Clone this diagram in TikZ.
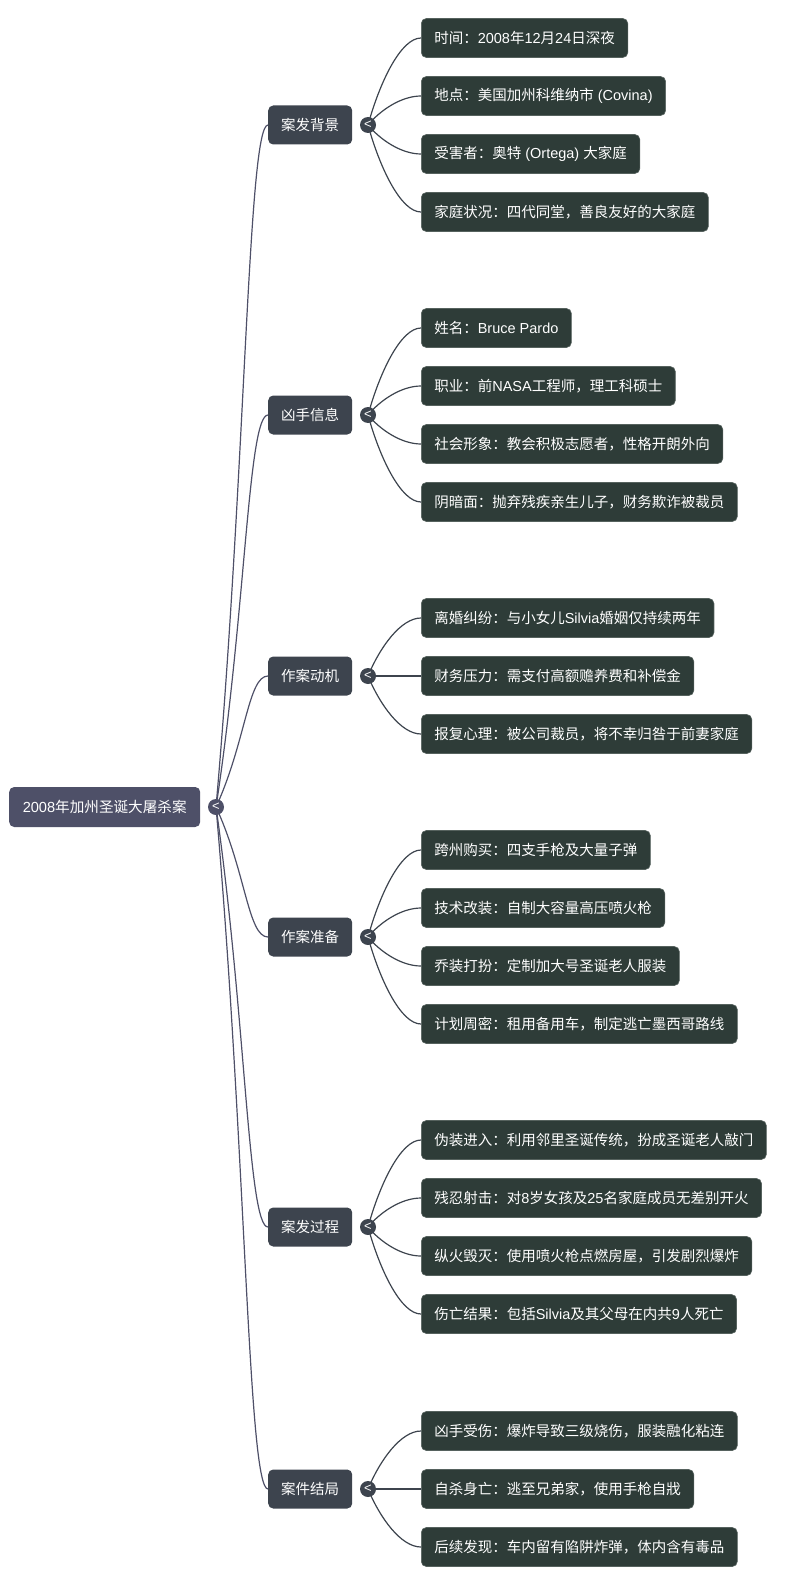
\documentclass[tikz,border=0pt]{standalone}
\usepackage{fontspec}
\setmainfont{Liberation Sans}
\newfontfamily\latf{Liberation Sans}
\newfontfamily\cjkf{Noto Sans CJK SC}
\usetikzlibrary{calc}

% CJK characters get the CJK font, the rest stays Latin
\XeTeXinterchartokenstate=1
\newXeTeXintercharclass\cjkcls
\newcount\cjkn
\cjkn="3000
\loop\XeTeXcharclass\cjkn=\cjkcls \ifnum\cjkn<"9FFF \advance\cjkn by 1 \repeat
\cjkn="FF00
\loop\XeTeXcharclass\cjkn=\cjkcls \ifnum\cjkn<"FFEF \advance\cjkn by 1 \repeat
\XeTeXinterchartoks 0 \cjkcls={\cjkf}
\XeTeXinterchartoks 4095 \cjkcls={\cjkf}
\XeTeXinterchartoks \cjkcls 0={\latf}
\XeTeXinterchartoks \cjkcls 4095={\latf}

\definecolor{rootc}{HTML}{4E5068}
\definecolor{mainc}{HTML}{3D444E}
\definecolor{subc}{HTML}{2E3C38}
\definecolor{subedge}{HTML}{56625E}

\tikzset{
  root/.style={fill=rootc, text=white, rounded corners=5pt, anchor=west,
    minimum height=40pt, minimum width=191pt, inner xsep=0pt,
    font=\latf\fontsize{14.6}{18}\selectfont},
  topic/.style={fill=mainc, text=white, rounded corners=5pt, anchor=west,
    minimum height=39pt, inner xsep=13pt, font=\latf\fontsize{14.5}{17}\selectfont},
  leaf/.style={topic, fill=subc, draw=subedge, line width=0.6pt},
  fold/.style={circle, fill=#1, text=white, minimum size=16pt, inner sep=0pt,
    font=\latf\fontsize{13}{13}\selectfont},
  branch/.style={to path={.. controls ($(\tikztostart)!0.5!(\tikztostart|-\tikztotarget)+(#1,0)$)
    and ($(\tikztotarget)+(-20,0)$) .. (\tikztotarget)}},
}

\begin{document}
\begin{tikzpicture}[x=1pt,y=-1pt]
\useasboundingbox (0,0) rectangle (800,1586);

\node[root] (r) at (9,807) {2008年加州圣诞大屠杀案};
\coordinate (rf) at (216,807);

\foreach \n/\y/\t in {t1/125/案发背景, t2/415/凶手信息, t3/676/作案动机,
    t4/937/作案准备, t5/1227/案发过程, t6/1489/案件结局} {
  \node[topic] (\n) at (268,\y) {\t};
  \coordinate (\n f) at (368,\y);
  \path[draw=rootc, line width=1.2pt] (rf) edge[branch=30] (\n.west);
}

\foreach \p/\n/\y/\t in {
    t1/a1/38/{时间：2008年12月24日深夜},
    t1/a2/96/{地点：美国加州科维纳市 (Covina)},
    t1/a3/154/{受害者：奥特 (Ortega) 大家庭},
    t1/a4/212/{家庭状况：四代同堂，善良友好的大家庭},
    t2/b1/328/{姓名：Bruce Pardo},
    t2/b2/386/{职业：前NASA工程师，理工科硕士},
    t2/b3/444/{社会形象：教会积极志愿者，性格开朗外向},
    t2/b4/502/{阴暗面：抛弃残疾亲生儿子，财务欺诈被裁员},
    t3/c1/618/{离婚纠纷：与小女儿Silvia婚姻仅持续两年},
    t3/c2/676/{财务压力：需支付高额赡养费和补偿金},
    t3/c3/734/{报复心理：被公司裁员，将不幸归咎于前妻家庭},
    t4/d1/850/{跨州购买：四支手枪及大量子弹},
    t4/d2/908/{技术改装：自制大容量高压喷火枪},
    t4/d3/966/{乔装打扮：定制加大号圣诞老人服装},
    t4/d4/1024/{计划周密：租用备用车，制定逃亡墨西哥路线},
    t5/e1/1140/{伪装进入：利用邻里圣诞传统，扮成圣诞老人敲门},
    t5/e2/1198/{残忍射击：对8岁女孩及25名家庭成员无差别开火},
    t5/e3/1256/{纵火毁灭：使用喷火枪点燃房屋，引发剧烈爆炸},
    t5/e4/1314/{伤亡结果：包括Silvia及其父母在内共9人死亡},
    t6/f1/1431/{凶手受伤：爆炸导致三级烧伤，服装融化粘连},
    t6/f2/1489/{自杀身亡：逃至兄弟家，使用手枪自戕},
    t6/f3/1547/{后续发现：车内留有陷阱炸弹，体内含有毒品}} {
  \node[leaf] (\n) at (421,\y) {\t};
  \path[draw=mainc, line width=1.2pt] (\p f) edge[branch=12] (\n.west);
}

% fold markers on top of the lines
\node[fold=rootc] at (rf) {<};
\foreach \n in {t1,t2,t3,t4,t5,t6}
  \node[fold=mainc] at (\n f) {<};
\end{tikzpicture}
\end{document}
